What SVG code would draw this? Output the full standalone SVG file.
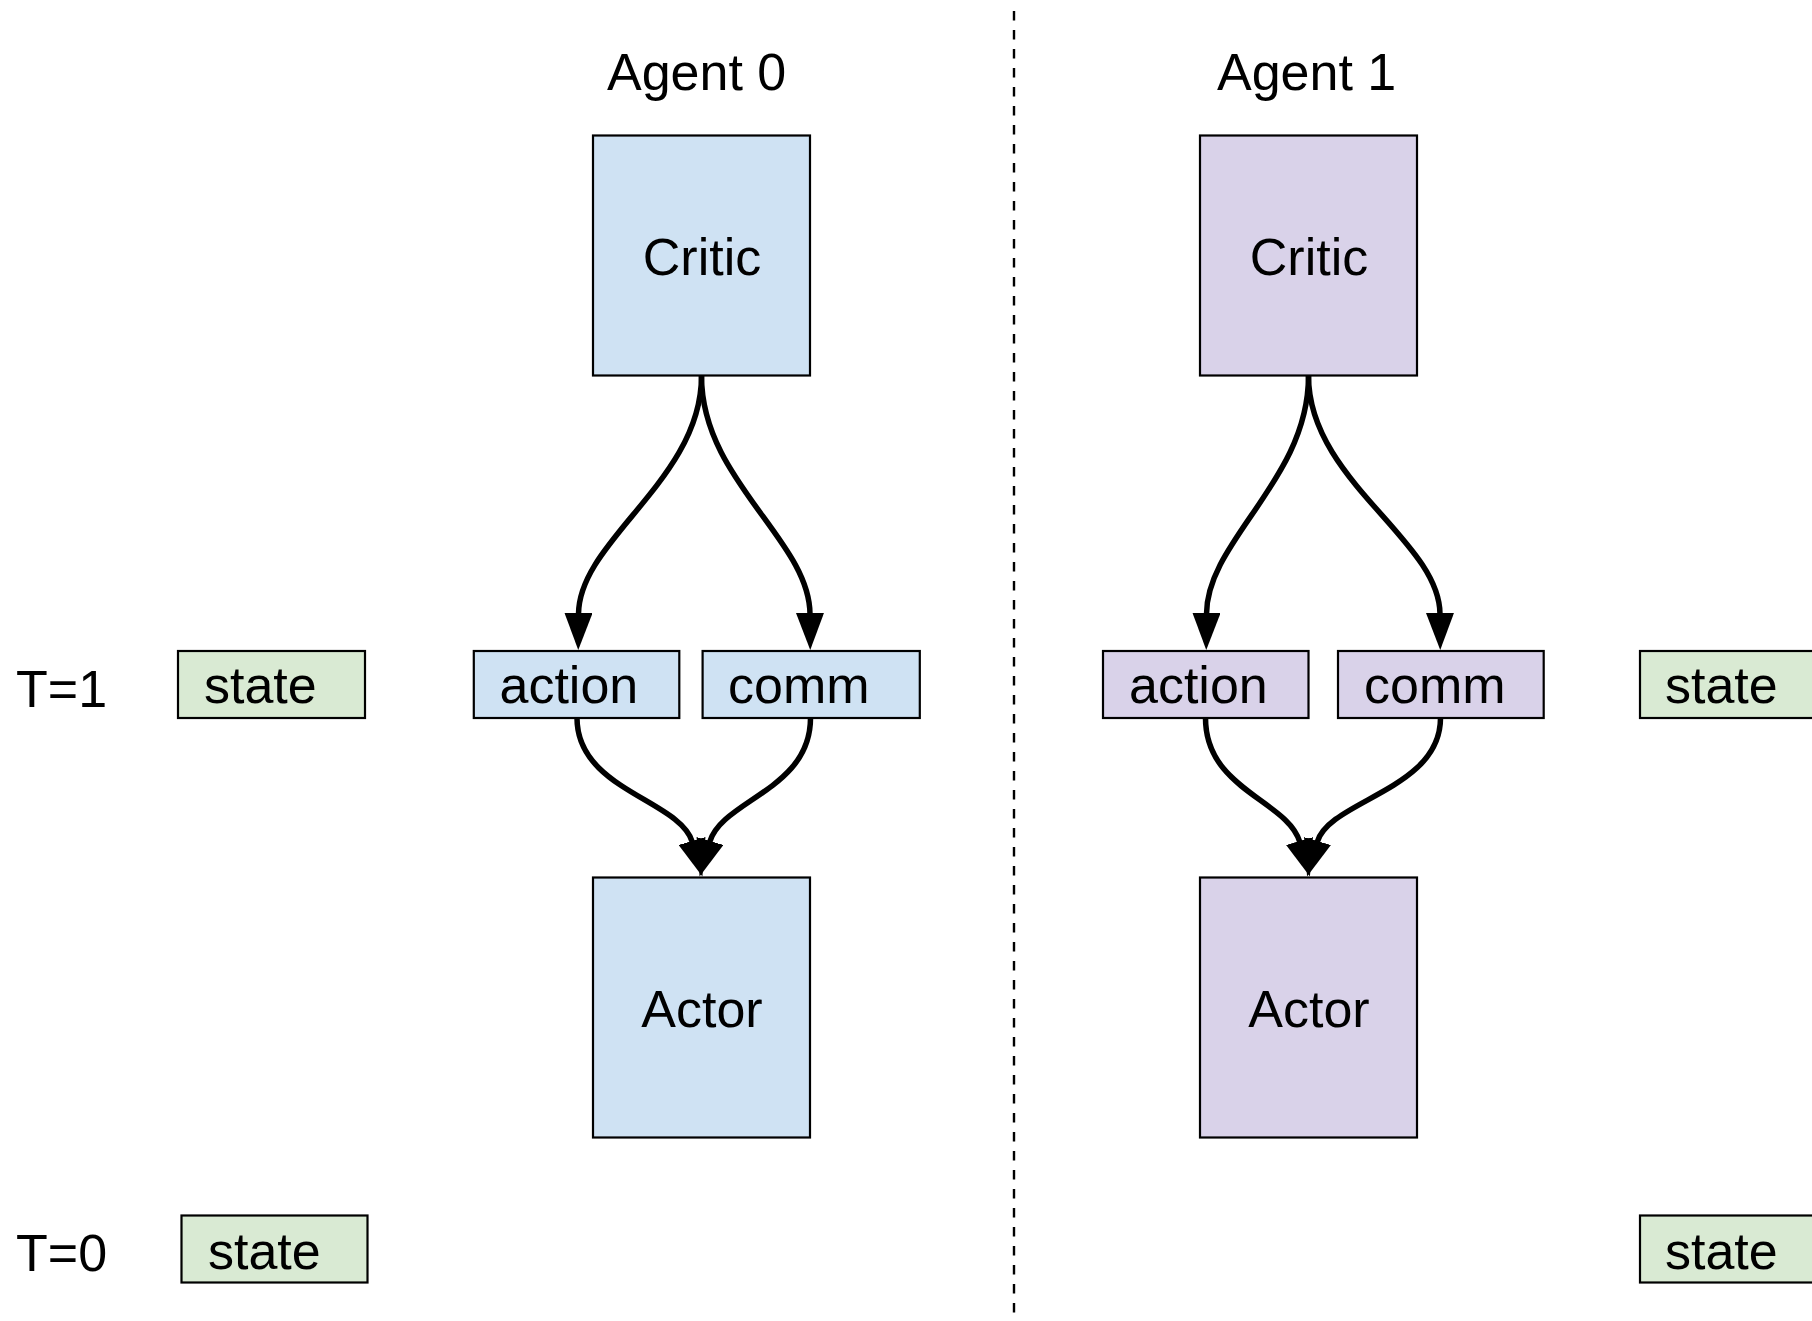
<svg xmlns="http://www.w3.org/2000/svg" width="1812" height="1321" viewBox="0 0 1812 1321">
  <style>
    text { font-family: "Liberation Sans", Arial, sans-serif; font-size: 52px; fill: #000; }
    .mid { text-anchor: middle; }
    .box { stroke: #000; stroke-width: 2.2; }
    .a0 { fill: #cfe2f3; }
    .a1 { fill: #d9d2e9; }
    .st { fill: #d9ead3; }
    .wire { fill: none; stroke: #000; stroke-width: 5.5; marker-end: url(#head); }
    .divider { stroke: #000; stroke-width: 2.4; stroke-dasharray: 9.5 9.5; }
  </style>
  <defs>
    <marker id="head" viewBox="0 0 37 28" refX="1" refY="14" markerWidth="37" markerHeight="28" markerUnits="userSpaceOnUse" orient="auto">
      <path d="M0,0 L37,14 L0,28 Z" fill="#000"/>
    </marker>
  </defs>
  <rect width="1812" height="1321" fill="#fff"/>

  <!-- separator between the two agents -->
  <line class="divider" x1="1014" y1="11" x2="1014" y2="1321"/>

  <!-- time step and agent labels -->
  <g id="labels">
    <text x="16" y="707">T=1</text>
    <text x="16" y="1271">T=0</text>
    <text x="607" y="90">Agent 0</text>
    <text x="1217" y="90">Agent 1</text>
  </g>

  <!-- environment state -->
  <g id="state-t1-left"><rect class="box st" x="178" y="651" width="187" height="67"/><text x="204" y="703">state</text></g>
  <g id="state-t0-left"><rect class="box st" x="181.5" y="1215.5" width="186" height="67"/><text x="208" y="1269">state</text></g>
  <g id="state-t1-right"><rect class="box st" x="1640" y="651" width="200" height="67"/><text x="1665" y="703">state</text></g>
  <g id="state-t0-right"><rect class="box st" x="1640" y="1215.5" width="200" height="67"/><text x="1665" y="1269">state</text></g>

  <!-- agent 0 -->
  <g id="critic0"><rect class="box a0" x="593" y="135.5" width="217" height="240"/><text class="mid" x="702" y="275">Critic</text></g>
  <g id="action0"><rect class="box a0" x="473.8" y="651" width="205.5" height="67"/><text x="499.5" y="703">action</text></g>
  <g id="comm0"><rect class="box a0" x="702.6" y="651" width="217.2" height="67"/><text x="728" y="703">comm</text></g>
  <g id="actor0"><rect class="box a0" x="593" y="877.5" width="217" height="260"/><text class="mid" x="702" y="1027">Actor</text></g>

  <!-- agent 1 -->
  <g id="critic1"><rect class="box a1" x="1200" y="135.5" width="217" height="240"/><text class="mid" x="1309" y="275">Critic</text></g>
  <g id="action1"><rect class="box a1" x="1103" y="651" width="205.5" height="67"/><text x="1129" y="703">action</text></g>
  <g id="comm1"><rect class="box a1" x="1338" y="651" width="205.7" height="67"/><text x="1364" y="703">comm</text></g>
  <g id="actor1"><rect class="box a1" x="1200" y="877.5" width="217" height="260"/><text class="mid" x="1309" y="1027">Actor</text></g>

  <!-- connectors -->
  <g id="connectors">
    <path class="wire" d="M701.5,376 C701.5,480 579,540 578.5,614"/>
    <path class="wire" d="M701.5,376 C701.5,480 809.5,540 810,614"/>
    <path class="wire" d="M577,718 C577,790 680,800 692.3,842"/>
    <path class="wire" d="M810.5,718 C810.5,790 722,800 709.7,842"/>

    <path class="wire" d="M1308.5,376 C1308.5,480 1207,540 1206.5,614"/>
    <path class="wire" d="M1308.5,376 C1308.5,480 1439.5,540 1440,614"/>
    <path class="wire" d="M1205.5,718 C1205.5,790 1287.5,800 1299.8,842"/>
    <path class="wire" d="M1440.5,718 C1440.5,790 1329.5,800 1317.2,842"/>
  </g>
</svg>
